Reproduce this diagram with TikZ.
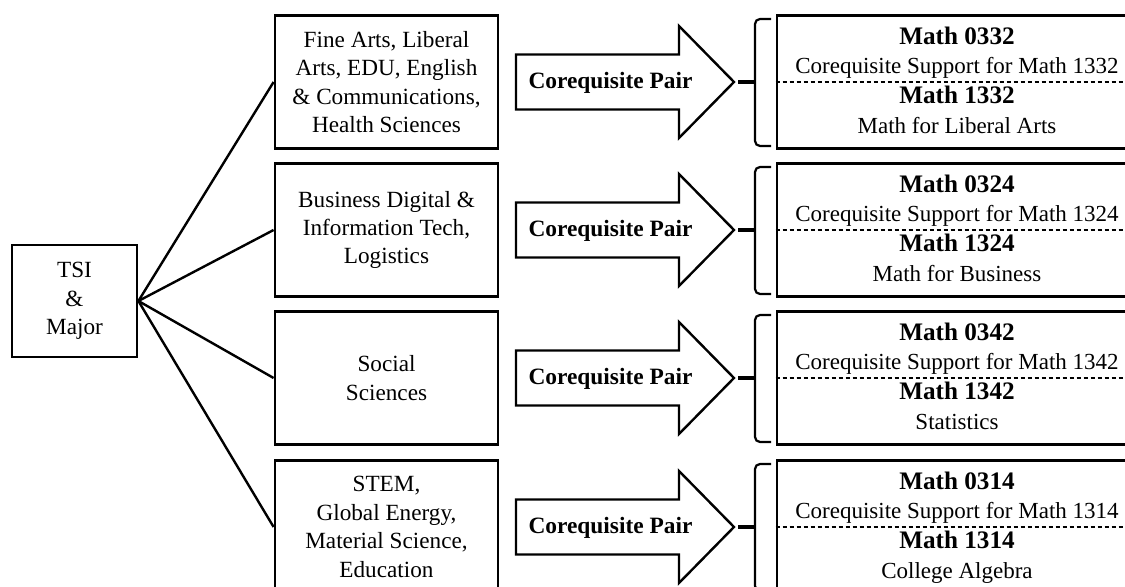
\documentclass[tikz,border=0pt]{standalone}
\usepackage{fontspec}
\setmainfont{Liberation Serif}

\begin{document}
\begin{tikzpicture}[x=0.5pt,y=-0.5pt,
kasten/.style={draw, line width=1.4pt, align=center, inner sep=0pt, font=\fontsize{11.6}{14.2}\selectfont},
fachkasten/.style={kasten, minimum width=111.5pt, minimum height=66.5pt},
kurskasten/.style={kasten, minimum width=180pt, minimum height=66.5pt},
linie/.style={line width=1.2pt},
pfeil/.style={line width=1.2pt, line join=miter},
klammer/.style={line width=1.1pt, rounded corners=2.5pt},
trenner/.style={line width=0.6pt, dash pattern=on 2pt off 1.5pt},
fett/.style={font=\fontsize{12.6}{14}\selectfont\bfseries, anchor=base},
normal/.style={font=\fontsize{11.5}{14}\selectfont, anchor=base},
]
\useasboundingbox (0,0) rectangle (1125,587);
\clip (0,0) rectangle (1125,587);

\node[kasten, minimum width=62.5pt, minimum height=56pt] (tsi) at (74.5,301) {TSI\\\&\\Major};

\node[fachkasten] (maj1) at (386.5,82) {Fine Arts, Liberal\\Arts, EDU, English\\\& Communications,\\Health Sciences};
\node[fachkasten] (maj2) at (386.5,230) {Business Digital \&\\Information Tech,\\Logistics};
\node[fachkasten] (maj3) at (386.5,378) {Social\\Sciences};
\node[fachkasten] (maj4) at (386.5,527) {STEM,\\Global Energy,\\Material Science,\\Education};

\draw[linie] (tsi.east) -- (maj1.west);
\draw[linie] (tsi.east) -- (maj2.west);
\draw[linie] (tsi.east) -- (maj3.west);
\draw[linie] (tsi.east) -- (maj4.west);

% Pfeile
\draw[pfeil] (516,54.5) -- (679,54.5) -- (679,26) -- (734,82) -- (679,138) -- (679,109.5) -- (516,109.5) -- cycle;
\draw[pfeil] (516,202.5) -- (679,202.5) -- (679,174) -- (734,230) -- (679,286) -- (679,257.5) -- (516,257.5) -- cycle;
\draw[pfeil] (516,350.5) -- (679,350.5) -- (679,322) -- (734,378) -- (679,434) -- (679,405.5) -- (516,405.5) -- cycle;
\draw[pfeil] (516,499.5) -- (679,499.5) -- (679,471) -- (734,527) -- (679,583) -- (679,554.5) -- (516,554.5) -- cycle;

\node[fett, font=\fontsize{11.7}{14}\selectfont\bfseries] (paar1) at (610.5,89) {Corequisite Pair};
\node[fett, font=\fontsize{11.7}{14}\selectfont\bfseries] (paar2) at (610.5,237) {Corequisite Pair};
\node[fett, font=\fontsize{11.7}{14}\selectfont\bfseries] (paar3) at (610.5,385) {Corequisite Pair};
\node[fett, font=\fontsize{11.7}{14}\selectfont\bfseries] (paar4) at (610.5,534) {Corequisite Pair};

% Klammern
\coordinate (s1) at (738,82);
\coordinate (s2) at (738,230);
\coordinate (s3) at (738,378);
\coordinate (s4) at (738,527);
\draw[line width=1.6pt] (s1) -- (755,82);
\draw[line width=1.6pt] (s2) -- (755,230);
\draw[line width=1.6pt] (s3) -- (755,378);
\draw[line width=1.6pt] (s4) -- (755,527);
\draw[klammer] (771,19) -- (755,19) -- (755,146) -- (771,146);
\draw[klammer] (771,167) -- (755,167) -- (755,294) -- (771,294);
\draw[klammer] (771,315) -- (755,315) -- (755,442) -- (771,442);
\draw[klammer] (771,464) -- (755,464) -- (755,591) -- (771,591);

% Kurse
\node[kurskasten] (kurs1) at (957,82) {};
\node[kurskasten] (kurs2) at (957,230) {};
\node[kurskasten] (kurs3) at (957,378) {};
\node[kurskasten] (kurs4) at (957,527) {};
\draw[trenner] (kurs1.west) -- (kurs1.east);
\draw[trenner] (kurs2.west) -- (kurs2.east);
\draw[trenner] (kurs3.west) -- (kurs3.east);
\draw[trenner] (kurs4.west) -- (kurs4.east);

\node[fett] (k1a) at (957,44.5) {Math 0332};
\node[normal] (k1b) at (957,73.5) {Corequisite Support for Math 1332};
\node[fett] (k1c) at (957,103.5) {Math 1332};
\node[normal] (k1d) at (957,133.5) {Math for Liberal Arts};

\node[fett] (k2a) at (957,192.5) {Math 0324};
\node[normal] (k2b) at (957,221.5) {Corequisite Support for Math 1324};
\node[fett] (k2c) at (957,251.5) {Math 1324};
\node[normal] (k2d) at (957,281.5) {Math for Business};

\node[fett] (k3a) at (957,340.5) {Math 0342};
\node[normal] (k3b) at (957,369.5) {Corequisite Support for Math 1342};
\node[fett] (k3c) at (957,399.5) {Math 1342};
\node[normal] (k3d) at (957,429.5) {Statistics};

\node[fett] (k4a) at (957,489.5) {Math 0314};
\node[normal] (k4b) at (957,518.5) {Corequisite Support for Math 1314};
\node[fett] (k4c) at (957,548.5) {Math 1314};
\node[normal] (k4d) at (957,578.5) {College Algebra};

\end{tikzpicture}
\end{document}
